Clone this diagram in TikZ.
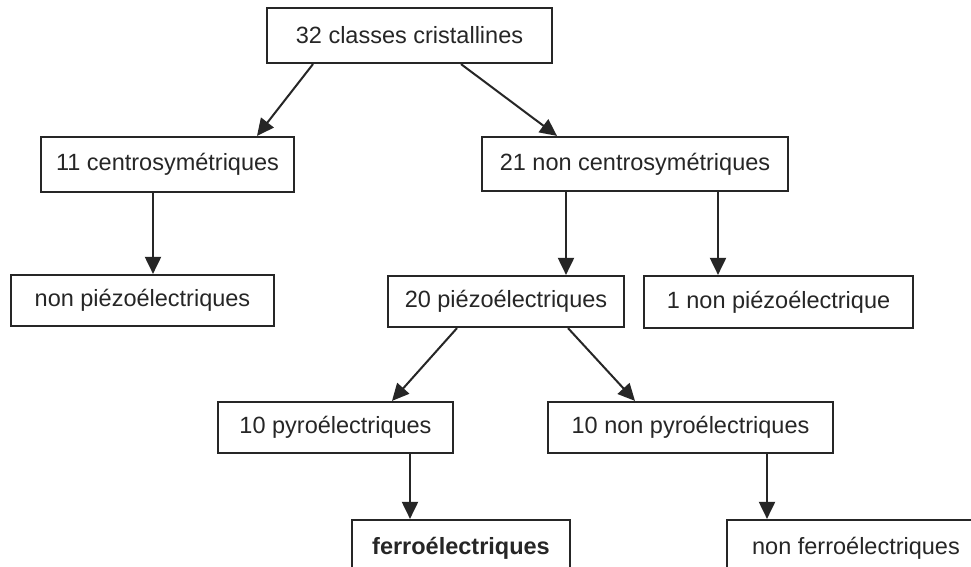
\documentclass[tikz,border=0pt]{standalone}
\usepackage{fontspec}
\setmainfont{Liberation Sans}
\usetikzlibrary{arrows.meta}
\definecolor{ink}{HTML}{262626}
\begin{document}
\begin{tikzpicture}[x=1pt,y=-1pt,
  box/.style={draw=ink, line width=2.2pt, rectangle, inner sep=0pt, text=ink,
    font=\fontsize{23.5}{27}\selectfont},
  arr/.style={draw=ink, line width=2pt, -{Triangle[length=17pt,width=16pt]}}]
\clip (0,0) rectangle (971,567);
\fill[white] (0,0) rectangle (971,567);
\node[box, minimum width=285, minimum height=55] (a1) at (409.5,35.5) {32 classes cristallines};
\node[box, minimum width=253, minimum height=55] (a2) at (167.5,164.5) {11 centrosymétriques};
\node[box, minimum width=306, minimum height=54] (a3) at (635,164) {21 non centrosymétriques};
\node[box, minimum width=263, minimum height=51] (a4) at (142.5,300.5) {non piézoélectriques};
\node[box, minimum width=236, minimum height=51] (a5) at (506,301.5) {20 piézoélectriques};
\node[box, minimum width=269, minimum height=52] (a6) at (778.5,302) {1 non piézoélectrique};
\node[box, minimum width=235, minimum height=51] (a7) at (335.5,427.5) {10 pyroélectriques};
\node[box, minimum width=285, minimum height=51] (a8) at (690.5,427.5) {10 non pyroélectriques};
\node[box, minimum width=218, minimum height=56] (a9) at (461,548) {\bfseries ferroélectriques};
\node[box, minimum width=258, minimum height=56] (a10) at (856,548) {non ferroélectriques};
\draw[arr] ([xshift=-96.5]a1.south) -- ([xshift=89.5]a2.north);
\draw[arr] ([xshift=51.5]a1.south) -- ([xshift=-78]a3.north);
\draw[arr] ([xshift=-14.5]a2.south) -- ([xshift=-14.5]a2.south |- a4.north);
\draw[arr] ([xshift=-69]a3.south) -- ([xshift=-69]a3.south |- a5.north);
\draw[arr] ([xshift=83]a3.south) -- ([xshift=83]a3.south |- a6.north);
\draw[arr] ([xshift=-49]a5.south) -- ([xshift=56.5]a7.north);
\draw[arr] ([xshift=62]a5.south) -- ([xshift=-55.5]a8.north);
\draw[arr] ([xshift=74.5]a7.south) -- ([xshift=74.5]a7.south |- a9.north);
\draw[arr] ([xshift=76.5]a8.south) -- ([xshift=76.5]a8.south |- a10.north);
\end{tikzpicture}
\end{document}
